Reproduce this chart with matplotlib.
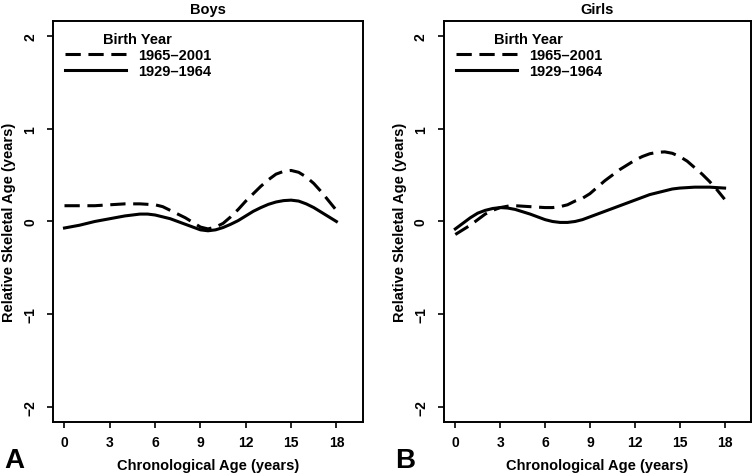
import matplotlib
matplotlib.use("Agg")
import matplotlib.pyplot as plt

plt.rcParams['font.family'] = ['Liberation Sans', 'DejaVu Sans']
plt.rcParams['font.weight'] = 'bold'

# Ages (years), read every half year
ages = [0, 0.5, 1, 1.5, 2, 2.5, 3, 3.5, 4, 4.5, 5, 5.5, 6, 6.5, 7, 7.5, 8, 8.5,
        9, 9.5, 10, 10.5, 11, 11.5, 12, 12.5, 13, 13.5, 14, 14.5, 15, 15.5,
        16, 16.5, 17, 17.5, 18]

# Boys
boys_recent = [0.17, 0.17, 0.17, 0.17, 0.17, 0.175, 0.18, 0.185, 0.19, 0.19,
               0.19, 0.185, 0.18, 0.16, 0.12, 0.08, 0.04, -0.01, -0.06, -0.08,
               -0.06, -0.02, 0.05, 0.13, 0.22, 0.30, 0.38, 0.45, 0.51, 0.54,
               0.55, 0.53, 0.48, 0.41, 0.32, 0.22, 0.12]
boys_early = [-0.07, -0.055, -0.04, -0.02, 0.0, 0.015, 0.03, 0.045, 0.06,
              0.07, 0.08, 0.08, 0.07, 0.05, 0.03, 0.0, -0.03, -0.06, -0.09,
              -0.10, -0.09, -0.065, -0.03, 0.01, 0.06, 0.11, 0.15, 0.185, 0.21,
              0.225, 0.23, 0.22, 0.19, 0.15, 0.10, 0.05, 0.0]

# Girls
girls_recent = [-0.14, -0.09, -0.04, 0.02, 0.08, 0.12, 0.15, 0.165, 0.17,
                0.165, 0.16, 0.155, 0.15, 0.15, 0.16, 0.18, 0.22, 0.25, 0.30,
                0.37, 0.44, 0.50, 0.56, 0.61, 0.66, 0.70, 0.73, 0.745, 0.75,
                0.735, 0.70, 0.65, 0.58, 0.51, 0.43, 0.34, 0.24]
girls_early = [-0.08, -0.02, 0.04, 0.09, 0.12, 0.14, 0.15, 0.145, 0.13, 0.105,
               0.08, 0.05, 0.02, 0.0, -0.01, -0.01, 0.0, 0.02, 0.05, 0.08,
               0.11, 0.14, 0.17, 0.20, 0.23, 0.26, 0.29, 0.31, 0.33, 0.35,
               0.36, 0.365, 0.37, 0.37, 0.37, 0.365, 0.36]

xticks = [0, 3, 6, 9, 12, 15, 18]
yticks = [-2, -1, 0, 1, 2]

fig = plt.figure(figsize=(7.55, 4.77), dpi=100)

panels = [
    ("Boys", "A", boys_recent, boys_early, [0.0702, 0.1132, 0.4106, 0.8407]),
    ("Girls", "B", girls_recent, girls_early, [0.588, 0.1132, 0.4066, 0.8407]),
]

for title, letter, recent, early, pos in panels:
    ax = fig.add_axes(pos)
    ax.plot(ages, recent, color='black', lw=2.2, linestyle=(0, (5, 2.5)),
            label='1965\u20132001')
    ax.plot(ages, early, color='black', lw=2.2, label='1929\u20131964')
    ax.set_xlim(-0.76, 19.76)
    ax.set_ylim(-2.16, 2.16)
    ax.set_xticks(xticks)
    ax.set_yticks(yticks)
    ax.set_yticklabels([str(v).replace('-', '\u2212') for v in yticks],
                       rotation=90, va='center')
    ax.tick_params(direction='out', length=4.5, width=1.2, labelsize=10)
    ax.tick_params(axis='y', pad=7)
    ax.tick_params(axis='x', pad=5)
    for s in ax.spines.values():
        s.set_linewidth(1.4)
    ax.set_title(title, fontsize=10.5, fontweight='bold', pad=6)
    ax.set_xlabel("Chronological Age (years)", fontsize=10.5,
                  fontweight='bold', labelpad=6)
    ax.set_ylabel("Relative Skeletal Age (years)", fontsize=10.5,
                  fontweight='bold', labelpad=5)
    leg = ax.legend(loc='upper left', frameon=False, fontsize=10.5,
                    title='Birth Year', handlelength=4.2, handletextpad=0.8,
                    borderaxespad=0.2, labelspacing=0.15,
                    bbox_to_anchor=(0.01, 0.995))
    leg.get_title().set_fontweight('bold')
    leg.get_title().set_fontsize(10.5)
    fig.text(pos[0] - 0.065, 0.033, letter, fontsize=20, fontweight='bold',
             ha='left', va='center')

fig.savefig("out.png", dpi=100)
